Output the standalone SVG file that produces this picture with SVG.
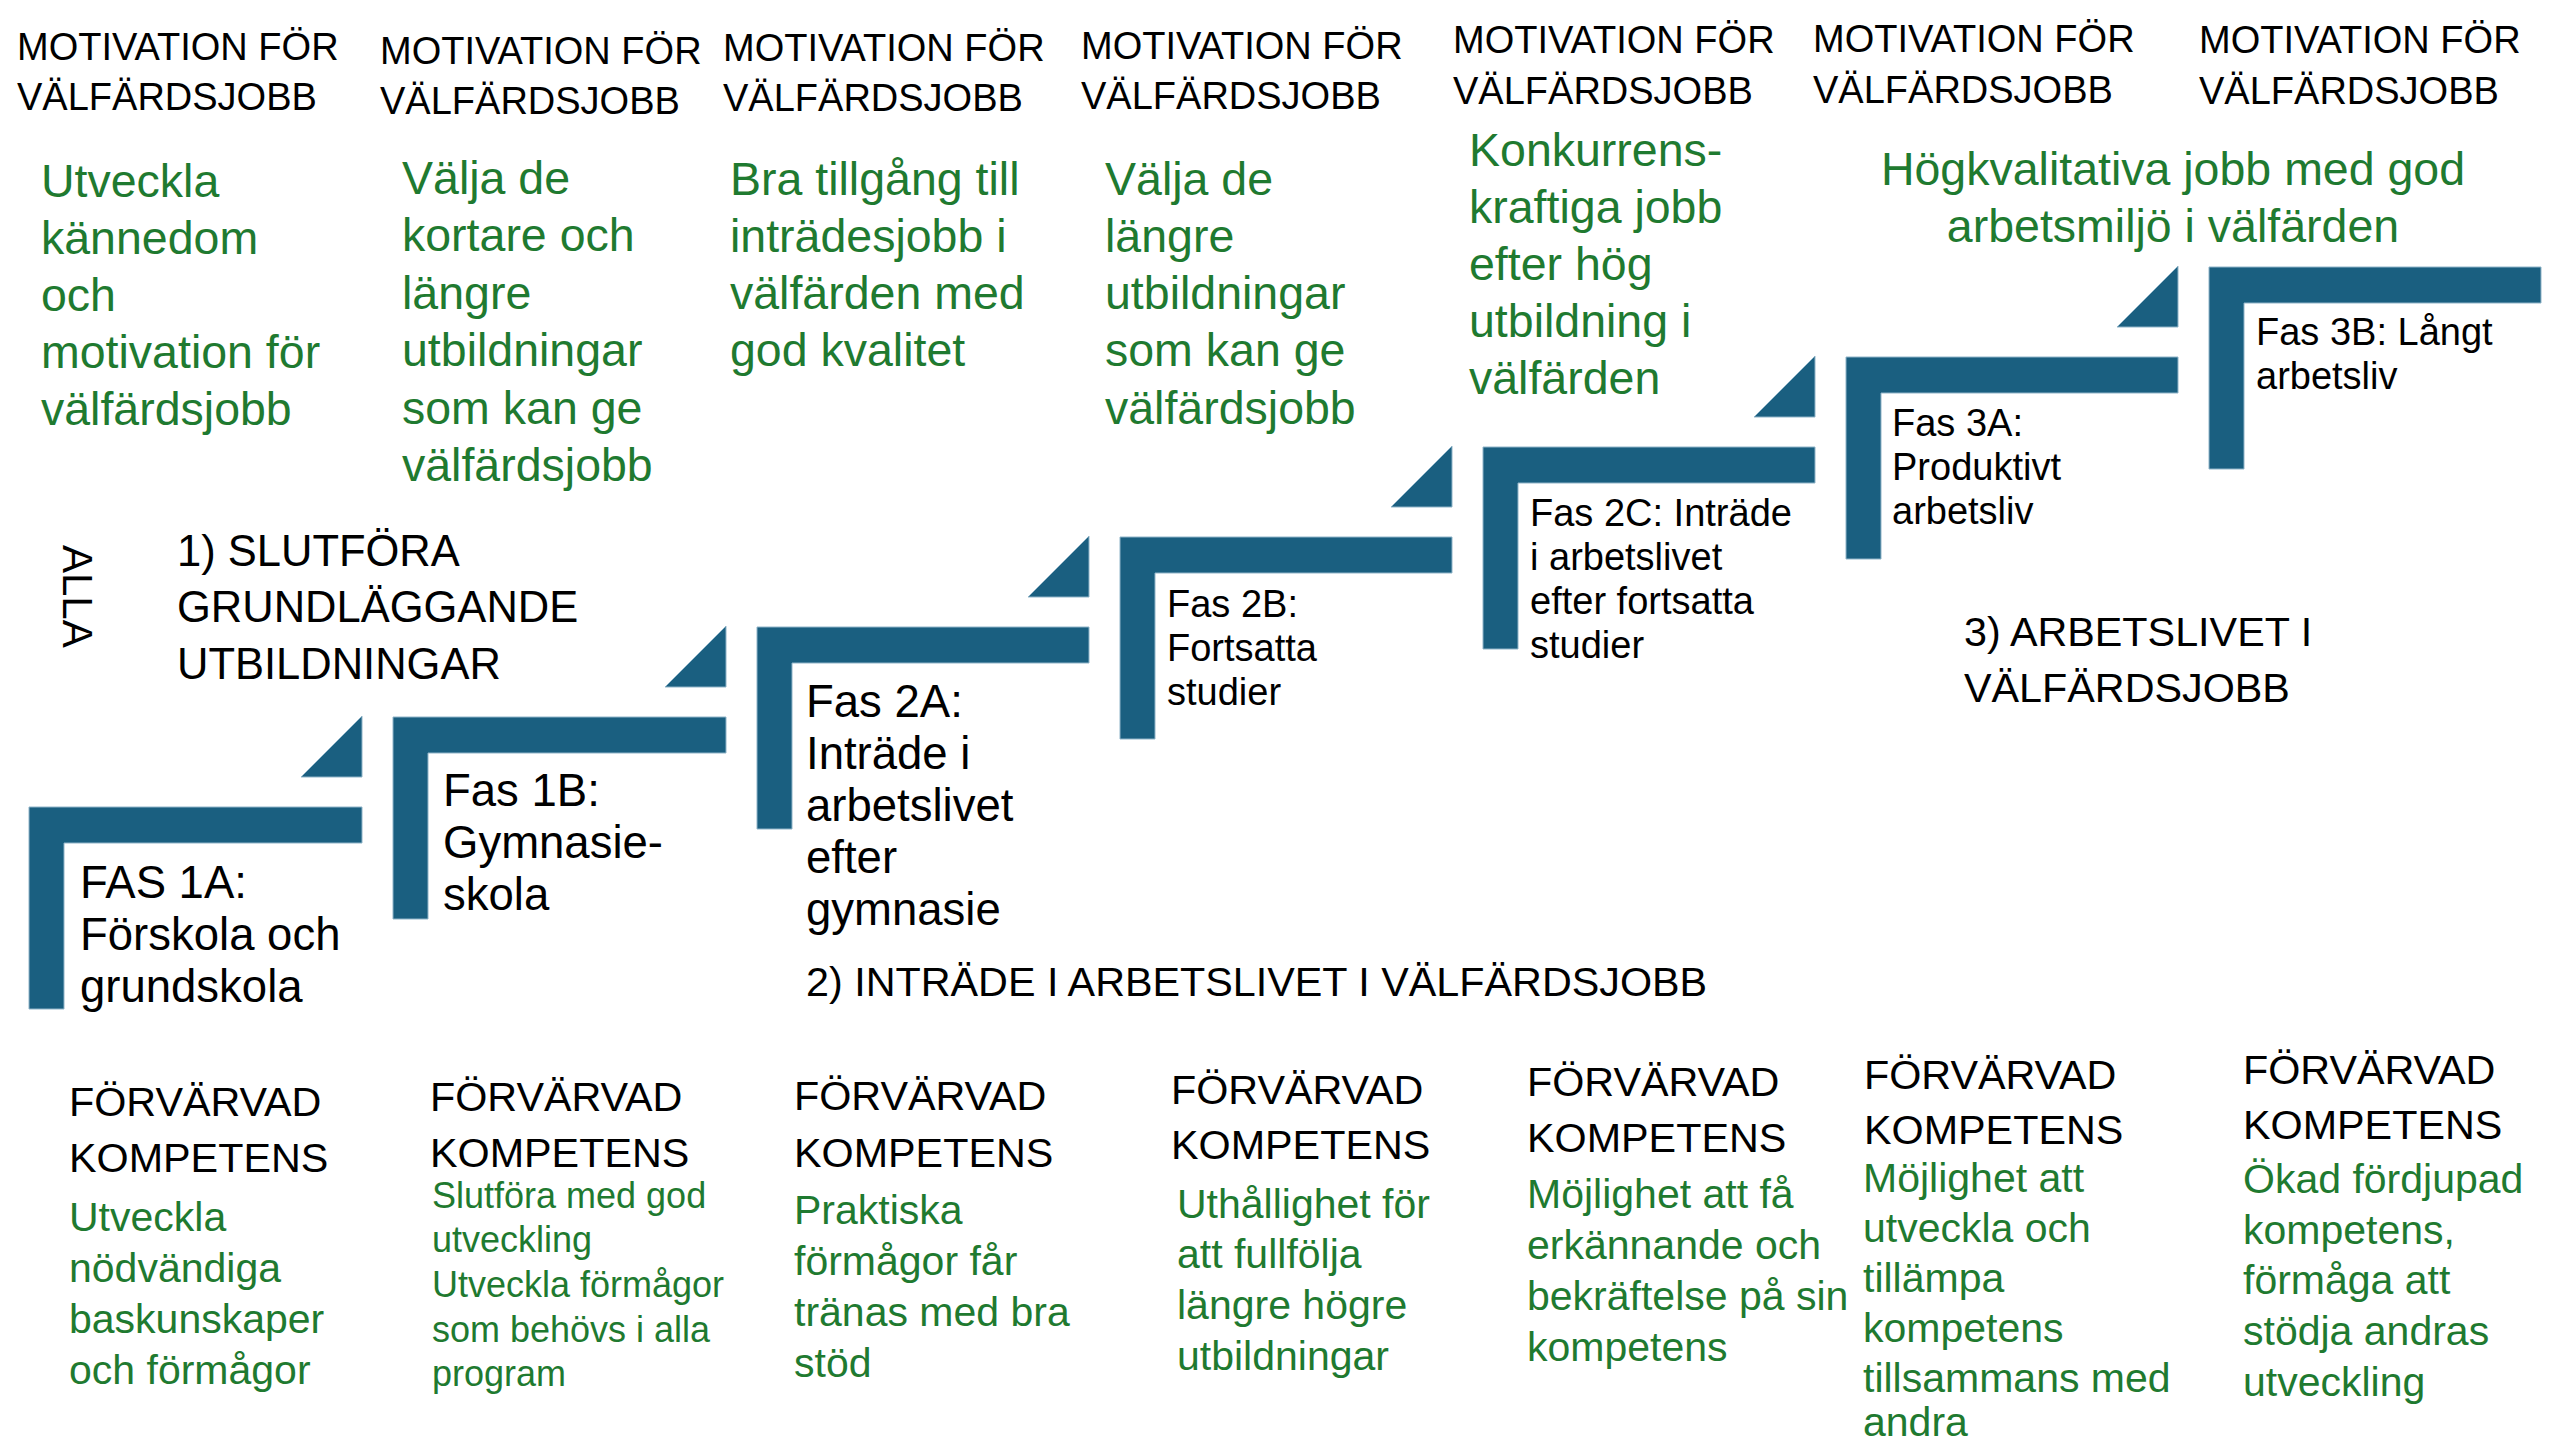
<svg xmlns="http://www.w3.org/2000/svg" width="2560" height="1440" viewBox="0 0 2560 1440">
<style>
  text { font-family: "Liberation Sans", Arial, sans-serif; }
  .hd { font-size: 38px; fill: #000; }
  .gt { font-size: 46.5px; fill: #1f7a30; }
  .gb { font-size: 41px; fill: #1f7a30; }
  .gs { font-size: 36px; fill: #1f7a30; }
  .kh { font-size: 41.3px; fill: #000; }
  .lb { font-size: 45.5px; fill: #000; }
  .ls { font-size: 38px; fill: #000; }
  .sec { font-size: 43.5px; fill: #000; }
  .alla { font-size: 42px; fill: #000; }
  .step { fill: #1a5f80; stroke: #8fb4c8; stroke-width: 1; }
  .tri { fill: #1a5f80; stroke: #8fb4c8; stroke-width: 1; }
</style>
<rect width="2560" height="1440" fill="#ffffff"/>

<g id="motivation-headers">
  <text class="hd" x="17" y="60">MOTIVATION FÖR<tspan x="17" y="110">VÄLFÄRDSJOBB</tspan></text>
  <text class="hd" x="380" y="64">MOTIVATION FÖR<tspan x="380" y="114">VÄLFÄRDSJOBB</tspan></text>
  <text class="hd" x="723" y="61">MOTIVATION FÖR<tspan x="723" y="111">VÄLFÄRDSJOBB</tspan></text>
  <text class="hd" x="1081" y="59">MOTIVATION FÖR<tspan x="1081" y="109">VÄLFÄRDSJOBB</tspan></text>
  <text class="hd" x="1453" y="53">MOTIVATION FÖR<tspan x="1453" y="104">VÄLFÄRDSJOBB</tspan></text>
  <text class="hd" x="1813" y="52">MOTIVATION FÖR<tspan x="1813" y="103">VÄLFÄRDSJOBB</tspan></text>
  <text class="hd" x="2199" y="53">MOTIVATION FÖR<tspan x="2199" y="104">VÄLFÄRDSJOBB</tspan></text>
</g>

<g id="motivation-texts">
  <text class="gt" x="41" y="197">Utveckla<tspan x="41" y="254">kännedom</tspan><tspan x="41" y="311">och</tspan><tspan x="41" y="368">motivation för</tspan><tspan x="41" y="425">välfärdsjobb</tspan></text>
  <text class="gt" x="402" y="194">Välja de<tspan x="402" y="251">kortare och</tspan><tspan x="402" y="309">längre</tspan><tspan x="402" y="366">utbildningar</tspan><tspan x="402" y="424">som kan ge</tspan><tspan x="402" y="481">välfärdsjobb</tspan></text>
  <text class="gt" x="730" y="195">Bra tillgång till<tspan x="730" y="252">inträdesjobb i</tspan><tspan x="730" y="309">välfärden med</tspan><tspan x="730" y="366">god kvalitet</tspan></text>
  <text class="gt" x="1105" y="195">Välja de<tspan x="1105" y="252">längre</tspan><tspan x="1105" y="309">utbildningar</tspan><tspan x="1105" y="366">som kan ge</tspan><tspan x="1105" y="424">välfärdsjobb</tspan></text>
  <text class="gt" x="1469" y="166">Konkurrens-<tspan x="1469" y="223">kraftiga jobb</tspan><tspan x="1469" y="280">efter hög</tspan><tspan x="1469" y="337">utbildning i</tspan><tspan x="1469" y="394">välfärden</tspan></text>
  <text class="gt" x="2173" y="185" text-anchor="middle">Högkvalitativa jobb med god<tspan x="2173" y="242">arbetsmiljö i välfärden</tspan></text>
</g>

<g id="connectors">
  <polygon class="tri" points="362,716 362,777 301,777"/>
  <polygon class="tri" points="726,626 726,687 665,687"/>
  <polygon class="tri" points="1089,536 1089,597 1028,597"/>
  <polygon class="tri" points="1452,446 1452,507 1391,507"/>
  <polygon class="tri" points="1815,356 1815,417 1754,417"/>
  <polygon class="tri" points="2178,266 2178,327 2117,327"/>
</g>

<g id="fas-1a">
  <path class="step" d="M29,807 H362 V843 H64 V1009 H29 Z"/>
  <text class="lb" x="80" y="898">FAS 1A:<tspan x="80" y="950">Förskola och</tspan><tspan x="80" y="1002">grundskola</tspan></text>
</g>
<g id="fas-1b">
  <path class="step" d="M393,717 H726 V753 H428 V919 H393 Z"/>
  <text class="lb" x="443" y="806">Fas 1B:<tspan x="443" y="858">Gymnasie-</tspan><tspan x="443" y="910">skola</tspan></text>
</g>
<g id="fas-2a">
  <path class="step" d="M757,627 H1089 V663 H792 V829 H757 Z"/>
  <text class="lb" x="806" y="717">Fas 2A:<tspan x="806" y="769">Inträde i</tspan><tspan x="806" y="821">arbetslivet</tspan><tspan x="806" y="873">efter</tspan><tspan x="806" y="925">gymnasie</tspan></text>
</g>
<g id="fas-2b">
  <path class="step" d="M1120,537 H1452 V573 H1155 V739 H1120 Z"/>
  <text class="ls" x="1167" y="617">Fas 2B:<tspan x="1167" y="661">Fortsatta</tspan><tspan x="1167" y="705">studier</tspan></text>
</g>
<g id="fas-2c">
  <path class="step" d="M1483,447 H1815 V483 H1518 V649 H1483 Z"/>
  <text class="ls" x="1530" y="526">Fas 2C: Inträde<tspan x="1530" y="570">i arbetslivet</tspan><tspan x="1530" y="614">efter fortsatta</tspan><tspan x="1530" y="658">studier</tspan></text>
</g>
<g id="fas-3a">
  <path class="step" d="M1846,357 H2178 V393 H1881 V559 H1846 Z"/>
  <text class="ls" x="1892" y="436">Fas 3A:<tspan x="1892" y="480">Produktivt</tspan><tspan x="1892" y="524">arbetsliv</tspan></text>
</g>
<g id="fas-3b">
  <path class="step" d="M2209,267 H2541 V303 H2244 V469 H2209 Z"/>
  <text class="ls" x="2256" y="345">Fas 3B: Långt<tspan x="2256" y="389">arbetsliv</tspan></text>
</g>

<g id="sections">
  <text class="alla" transform="translate(63,545) rotate(90)">ALLA</text>
  <text class="sec" x="177" y="566">1) SLUTFÖRA<tspan x="177" y="622">GRUNDLÄGGANDE</tspan><tspan x="177" y="679">UTBILDNINGAR</tspan></text>
  <text class="kh" x="806" y="996">2) INTRÄDE I ARBETSLIVET I VÄLFÄRDSJOBB</text>
  <text class="kh" x="1964" y="646">3) ARBETSLIVET I<tspan x="1964" y="702">VÄLFÄRDSJOBB</tspan></text>
</g>

<g id="kompetens-1">
  <text class="kh" x="69" y="1116">FÖRVÄRVAD<tspan x="69" y="1172">KOMPETENS</tspan></text>
  <text class="gb" x="69" y="1231">Utveckla<tspan x="69" y="1282">nödvändiga</tspan><tspan x="69" y="1333">baskunskaper</tspan><tspan x="69" y="1384">och förmågor</tspan></text>
</g>
<g id="kompetens-2">
  <text class="kh" x="430" y="1111">FÖRVÄRVAD<tspan x="430" y="1167">KOMPETENS</tspan></text>
  <text class="gs" x="432" y="1208">Slutföra med god<tspan x="432" y="1252">utveckling</tspan><tspan x="432" y="1297">Utveckla förmågor</tspan><tspan x="432" y="1342">som behövs i alla</tspan><tspan x="432" y="1386">program</tspan></text>
</g>
<g id="kompetens-3">
  <text class="kh" x="794" y="1110">FÖRVÄRVAD<tspan x="794" y="1167">KOMPETENS</tspan></text>
  <text class="gb" x="794" y="1224">Praktiska<tspan x="794" y="1275">förmågor får</tspan><tspan x="794" y="1326">tränas med bra</tspan><tspan x="794" y="1377">stöd</tspan></text>
</g>
<g id="kompetens-4">
  <text class="kh" x="1171" y="1104">FÖRVÄRVAD<tspan x="1171" y="1159">KOMPETENS</tspan></text>
  <text class="gb" x="1177" y="1218">Uthållighet för<tspan x="1177" y="1268">att fullfölja</tspan><tspan x="1177" y="1319">längre högre</tspan><tspan x="1177" y="1370">utbildningar</tspan></text>
</g>
<g id="kompetens-5">
  <text class="kh" x="1527" y="1096">FÖRVÄRVAD<tspan x="1527" y="1152">KOMPETENS</tspan></text>
  <text class="gb" x="1527" y="1208">Möjlighet att få<tspan x="1527" y="1259">erkännande och</tspan><tspan x="1527" y="1310">bekräftelse på sin</tspan><tspan x="1527" y="1361">kompetens</tspan></text>
</g>
<g id="kompetens-6">
  <text class="kh" x="1864" y="1089">FÖRVÄRVAD<tspan x="1864" y="1144">KOMPETENS</tspan></text>
  <text class="gb" x="1863" y="1192">Möjlighet att<tspan x="1863" y="1242">utveckla och</tspan><tspan x="1863" y="1292">tillämpa</tspan><tspan x="1863" y="1342">kompetens</tspan><tspan x="1863" y="1392">tillsammans med</tspan><tspan x="1863" y="1436">andra</tspan></text>
</g>
<g id="kompetens-7">
  <text class="kh" x="2243" y="1084">FÖRVÄRVAD<tspan x="2243" y="1139">KOMPETENS</tspan></text>
  <text class="gb" x="2243" y="1193">Ökad fördjupad<tspan x="2243" y="1244">kompetens,</tspan><tspan x="2243" y="1294">förmåga att</tspan><tspan x="2243" y="1345">stödja andras</tspan><tspan x="2243" y="1396">utveckling</tspan></text>
</g>
</svg>
